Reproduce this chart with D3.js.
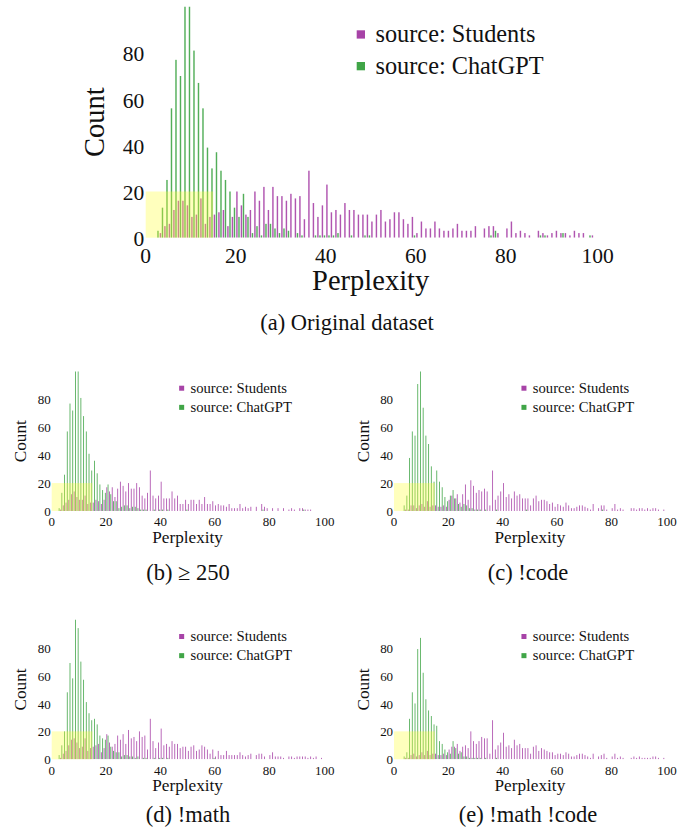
<!DOCTYPE html>
<html>
<head>
<meta charset="utf-8">
<script src="https://cdn.jsdelivr.net/npm/d3@7"></script>
<style>
  html, body { margin: 0; padding: 0; background: #ffffff; }
  svg { display: block; }
  svg text { font-family: 'Liberation Serif', 'Times New Roman', Times, serif; fill: #111; }
</style>
</head>
<body>
<svg id="chart" width="699" height="832"></svg>
<script>
// ---- Data: counts per perplexity bin (bin centers 1..100) ----
const binCenters = d3.range(1, 101);
const xTicks = [0, 20, 40, 60, 80, 100];
const yTicks = [0, 20, 40, 60, 80];
const seriesNames = ["source: Students", "source: ChatGPT"];
const captions = ["(a) Original dataset", "(b) \u2265 250", "(c) !code", "(d) !math", "(e) !math !code"];

// (a) Original dataset
const origStudents = [0,0,2,5,6,12,16,16,14,9, 10,17,6,9,10,11,12,5,9,20, 14,10,12,20,16,22,12,22,18,18,
  16,19,17,18,8,29,15,9,14,23, 11,12,10,15,12,12,10,10,10,7, 10,12,7,8,11,11,8,6,9,2,
  7,4,4,7,4,3,3,4,6,3, 3,3,5,0,4,5,5,2,0,4, 7,2,3,2,1,0,3,2,1,2, 3,2,2,1,3,2,2,0,1,0];
const origChatGPT = [0,0,3,13,25,56,77,70,103,102, 81,67,56,39,30,37,29,25,20,13, 9,19,9,2,5,1,6,6,4,2,
  4,3,0,2,1,0,0,1,1,1, 1,1,2,0,0,1,0,0,1,1, 0,0,0,0,0,0,0,0,0,1,
  0,0,0,0,0,0,0,0,0,0, 0,0,0,0,0,0,1,3,0,0, 0,0,0,0,0,0,0,1,1,0, 0,0,2,0,0,0,0,0,1,0];

// (b) >= 250
const ge250Students = [0,0,1,4,6,8,12,14,10,8, 8,11,5,6,6,8,7,5,8,17, 14,17,10,16,21,18,14,20,16,16,
  20,17,11,9,13,29,11,9,11,21, 9,9,9,14,9,11,5,5,8,5, 8,8,5,8,5,10,5,5,7,4,
  5,4,4,3,5,2,2,2,5,2, 3,2,3,0,3,0,5,3,2,0, 2,0,2,0,2,0,1,2,1,0, 2,2,1,1,1,0,0,0,0,0];
const ge250ChatGPT = [0,0,2,13,26,57,77,72,103,102, 81,68,57,41,29,36,27,19,15,13, 19,12,7,7,2,3,4,4,2,3,
  3,2,1,1,1,0,0,1,0,1, 1,0,1,0,0,0,0,0,0,1, 0,0,0,0,0,0,0,0,0,0,
  0,0,0,0,0,0,0,0,0,0, 0,0,0,0,0,0,0,1,0,0, 0,0,0,0,0,0,0,0,0,0, 0,0,1,0,0,0,0,0,0,0];

// (c) !code
const noCodeStudents = [0,0,0,1,1,4,4,2,4,5, 3,7,3,4,4,3,3,4,3,8, 11,9,12,6,12,19,8,22,18,13,
  15,14,16,14,4,29,8,11,14,20, 10,12,9,14,11,12,9,9,9,4, 9,11,7,8,8,7,5,6,3,5,
  4,3,6,4,2,2,3,4,4,3, 2,1,5,0,2,4,4,1,0,2, 5,1,2,1,0,0,2,2,1,2, 2,1,2,1,2,2,1,0,1,0];
const noCodeChatGPT = [0,0,0,4,11,38,57,54,91,101, 74,54,48,32,21,29,21,17,10,7, 11,15,9,5,3,5,4,2,2,1,
  1,1,0,1,0,0,0,1,0,0, 0,0,0,0,0,0,0,0,1,0, 0,0,0,0,0,0,0,0,0,0,
  0,0,0,0,0,0,0,0,0,0, 0,0,0,0,0,0,1,0,0,0, 0,0,0,0,0,0,0,0,0,0, 0,0,0,0,0,0,0,0,0,0];

// (d) !math
const noMathStudents = [0,0,1,4,6,10,14,15,12,8, 9,15,6,8,9,10,11,5,8,18, 12,9,11,17,14,18,11,21,15,16,
  13,20,16,17,7,29,13,8,12,22, 10,11,9,13,11,11,8,9,9,6, 9,10,6,7,10,9,7,4,7,2,
  6,3,3,6,3,3,3,3,5,3, 2,3,4,0,3,4,4,2,0,3, 5,2,2,2,1,0,2,2,1,2, 2,2,2,1,2,1,2,0,1,0];
const noMathChatGPT = [0,0,3,10,20,48,69,58,101,94, 70,57,41,33,28,29,25,17,15,14, 17,9,6,5,5,2,3,3,2,2,
  1,2,0,1,1,0,0,1,0,1, 1,0,1,0,0,0,0,0,0,0, 0,0,0,0,0,0,0,0,0,1,
  0,0,0,0,0,0,0,0,0,0, 0,0,0,0,0,0,0,0,0,0, 0,0,0,0,0,0,0,0,0,0, 0,0,0,0,0,0,0,0,0,0];

// (e) !math !code
const noMathNoCodeStudents = [0,0,0,1,1,3,4,2,3,5, 3,6,3,4,4,3,3,4,3,7, 9,9,11,6,9,10,8,20,13,11,
  13,16,15,15,4,28,7,10,12,19, 9,10,8,14,10,11,8,8,8,4, 9,10,6,8,7,6,5,5,3,4,
  4,3,5,4,2,2,3,4,4,3, 2,1,4,0,2,3,4,1,0,2, 4,1,2,1,0,0,1,2,1,2, 1,1,1,1,2,2,1,0,1,0];
const noMathNoCodeChatGPT = [0,0,0,2,5,29,48,40,79,87, 62,43,35,31,25,24,13,11,7,5, 4,13,8,4,5,2,2,1,1,1,
  1,1,0,1,0,0,0,1,0,0, 0,0,0,0,0,0,0,0,0,0, 0,0,0,0,0,0,0,0,0,0,
  0,0,0,0,0,0,0,0,0,0, 0,0,0,0,0,0,0,0,0,0, 0,0,0,0,0,0,0,0,0,0, 0,0,0,0,0,0,0,0,0,0];

// highlighted region
const highlightX = [0, 15];
const highlightY = [0, 20];

// ---- Styling / layout ----
const FONT = "'Liberation Serif', 'Times New Roman', Times, serif";
const colors = { students: "#a743a7", chatgpt: "#40a547" };
const panels = [
  { students: origStudents, chatgpt: origChatGPT, tx: 0, ty: 0, s: 1, cap: captions[0], cx: 347, cy: 330 },
  { students: ge250Students, chatgpt: ge250ChatGPT, tx: -36.3, ty: 367.4, s: 0.604, cap: captions[1], cx: 188, cy: 580 },
  { students: noCodeStudents, chatgpt: noCodeChatGPT, tx: 306, ty: 367.4, s: 0.604, cap: captions[2], cx: 528, cy: 580 },
  { students: noMathStudents, chatgpt: noMathChatGPT, tx: -36.3, ty: 615.7, s: 0.604, cap: captions[3], cx: 188, cy: 822 },
  { students: noMathNoCodeStudents, chatgpt: noMathNoCodeChatGPT, tx: 306, ty: 615.7, s: 0.604, cap: captions[4], cx: 528, cy: 822 }
];

const svg = d3.select("#chart").attr("font-family", FONT);
svg.append("rect").attr("width", 699).attr("height", 832).attr("fill", "#fff");

// Panel internal coordinates (main-panel scale)
const x = d3.scaleLinear().domain([0, 100]).range([145.7, 595.7]);
const y = d3.scaleLinear().domain([0, 100]).range([237.7, 6.7]);
const barW = x(0.32) - x(0);
const offset = 0.27;

const defs = svg.append("defs");
defs.append("clipPath").attr("id", "plotclip")
  .append("rect").attr("x", x(0) - 5).attr("y", y(100)).attr("width", x(100) - x(0) + 20).attr("height", y(0) - y(100));

panels.forEach((p, i) => {
  const g = svg.append("g").attr("transform", `translate(${p.tx},${p.ty}) scale(${p.s})`);
  const plot = g.append("g").attr("clip-path", "url(#plotclip)");

  const dStud = binCenters.map((c, j) => ({ c, v: p.students[j] })).filter(d => d.v > 0);
  const dGpt = binCenters.map((c, j) => ({ c, v: p.chatgpt[j] })).filter(d => d.v > 0);

  plot.selectAll(".stud").data(dStud).join("rect")
    .attr("x", d => x(d.c + offset) - barW / 2)
    .attr("y", d => y(d.v))
    .attr("width", barW)
    .attr("height", d => y(0) - y(d.v))
    .attr("fill", colors.students)
    .attr("opacity", 0.9);

  plot.selectAll(".gpt").data(dGpt).join("rect")
    .attr("x", d => x(d.c - offset) - barW / 2)
    .attr("y", d => y(d.v))
    .attr("width", barW)
    .attr("height", d => y(0) - y(d.v))
    .attr("fill", colors.chatgpt)
    .attr("opacity", 0.9);

  // highlight rectangle on top
  g.append("rect")
    .attr("x", x(highlightX[0]))
    .attr("y", y(highlightY[1]))
    .attr("width", x(highlightX[1]) - x(highlightX[0]))
    .attr("height", y(highlightY[0]) - y(highlightY[1]))
    .attr("fill", "#ffff33")
    .attr("opacity", 0.32);

  // y tick labels
  g.selectAll(".yt").data(yTicks).join("text")
    .attr("x", x(0) - 1.5)
    .attr("y", d => y(d) + 8.5)
    .attr("text-anchor", "end")
    .attr("font-family", FONT)
    .attr("font-size", 21.5)
    .text(d => d);

  // x tick labels
  g.selectAll(".xt").data(xTicks).join("text")
    .attr("x", d => x(d) + (d === 100 ? 2 : 0))
    .attr("y", y(0) + 25.5)
    .attr("text-anchor", "middle")
    .attr("font-family", FONT)
    .attr("font-size", 21.5)
    .text(d => d);

  // axis titles
  g.append("text")
    .attr("transform", `translate(${103.5},${y(50)}) rotate(-90)`)
    .attr("text-anchor", "middle")
    .attr("font-family", FONT)
    .attr("font-size", 28.5)
    .text("Count");
  g.append("text")
    .attr("x", x(50))
    .attr("y", 290)
    .attr("text-anchor", "middle")
    .attr("font-family", FONT)
    .attr("font-size", 28.5)
    .text("Perplexity");

  // legend
  const leg = g.append("g");
  const legColors = [colors.students, colors.chatgpt];
  seriesNames.forEach((name, k) => {
    leg.append("rect")
      .attr("x", 356.7).attr("y", 30.3 + k * 31.7)
      .attr("width", 8.3).attr("height", 8.3)
      .attr("fill", legColors[k]);
    leg.append("text")
      .attr("x", 375.5).attr("y", 42 + k * 31.7)
      .attr("font-family", FONT)
      .attr("font-size", 24.3)
      .text(name);
  });

  // caption
  svg.append("text")
    .attr("x", p.cx).attr("y", p.cy)
    .attr("text-anchor", "middle")
    .attr("font-family", FONT)
    .attr("font-size", 22.5)
    .text(p.cap);
});
</script>
</body>
</html>
